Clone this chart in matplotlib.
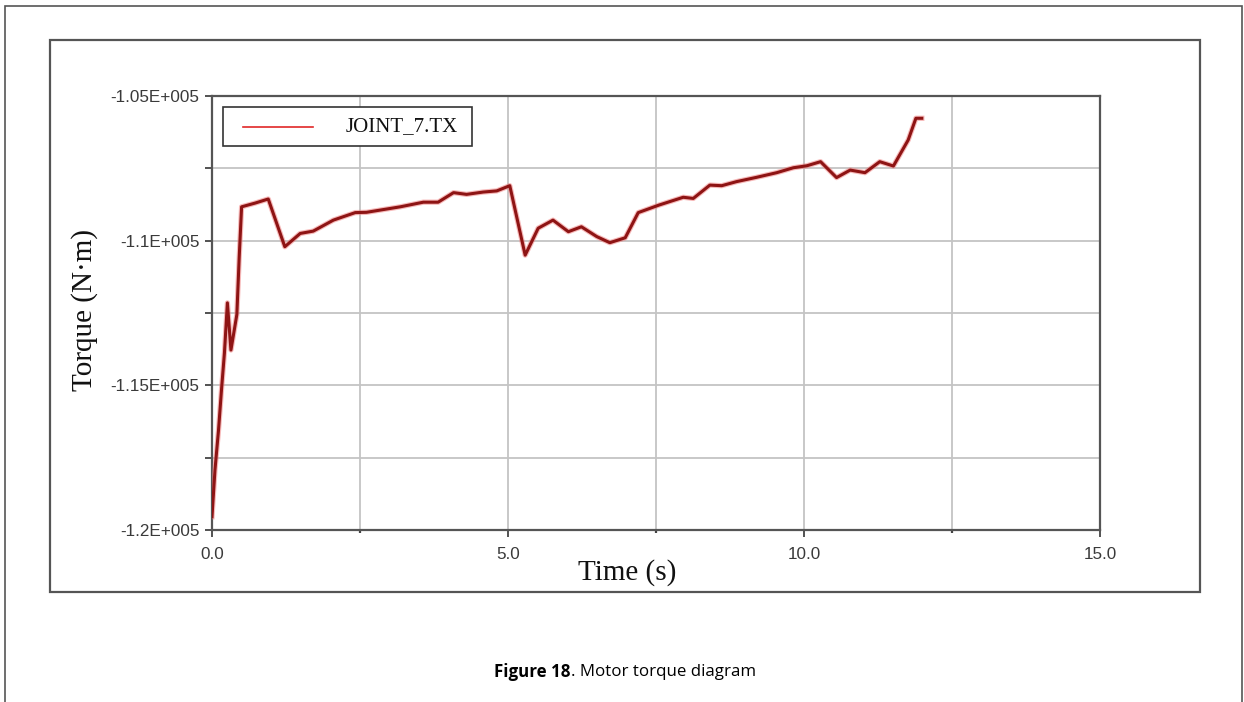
import matplotlib
matplotlib.use("Agg")
import matplotlib.pyplot as plt
import matplotlib.patheffects as pe
from matplotlib.patches import Rectangle
from matplotlib.lines import Line2D

# Joint 7 motor torque over time
time_s = [0.00, 0.05, 0.11, 0.16, 0.21, 0.26, 0.32, 0.42, 0.46, 0.50, 0.73,
          0.95, 1.23, 1.49, 1.71, 2.05, 2.42, 2.61, 3.18, 3.57, 3.82, 4.08,
          4.30, 4.58, 4.81, 5.03, 5.29, 5.51, 5.76, 6.02, 6.24, 6.50, 6.72,
          6.98, 7.20, 7.55, 7.96, 8.13, 8.41, 8.61, 8.86, 9.20, 9.54, 9.82,
          10.05, 10.28, 10.55, 10.78, 11.03, 11.28, 11.51, 11.76, 11.89, 11.99]
torque = [-119540, -117930, -116550, -115160, -113880, -112150, -113780,
          -112550, -110550, -108830, -108700, -108560, -110210, -109750,
          -109670, -109290, -109030, -109020, -108830, -108670, -108670,
          -108340, -108400, -108320, -108280, -108100, -110500, -109570,
          -109290, -109690, -109520, -109860, -110070, -109900, -109030,
          -108770, -108500, -108540, -108080, -108100, -107960, -107810,
          -107650, -107480, -107410, -107270, -107820, -107560, -107650,
          -107270, -107420, -106520, -105770, -105770]

x_ticks = [0.0, 5.0, 10.0, 15.0]
x_tick_labels = ["0.0", "5.0", "10.0", "15.0"]
y_ticks = [-120000, -115000, -110000, -105000]
y_tick_labels = ["-1.2E+005", "-1.15E+005", "-1.1E+005", "-1.05E+005"]
series_name = "JOINT_7.TX"

W, H = 1244, 702
fig = plt.figure(figsize=(W / 100, H / 100), dpi=100)
fig.patch.set_facecolor("white")


def fx(px):
    return px / W


def fy(py):
    return 1 - py / H


# outer page frame and inner plot frame
fig.add_artist(Rectangle((fx(5), fy(720)), fx(1242) - fx(5), fy(6) - fy(720),
                         transform=fig.transFigure, fill=False,
                         edgecolor="#555555", linewidth=1.2))
fig.add_artist(Rectangle((fx(50), fy(592)), fx(1200) - fx(50), fy(40) - fy(592),
                         transform=fig.transFigure, fill=False,
                         edgecolor="#555555", linewidth=1.6))

ax = fig.add_axes([fx(212), fy(530), fx(1100) - fx(212), fy(96) - fy(530)])
ax.set_xlim(0, 15)
ax.set_ylim(-120000, -105000)

ax.plot(time_s, torque, color="#8e1414", linewidth=2.2, solid_joinstyle="round",
        path_effects=[pe.Stroke(linewidth=3.8, foreground="#f08080", alpha=0.55),
                      pe.Normal()], zorder=3)

ax.set_xticks(x_ticks)
ax.set_xticklabels(x_tick_labels)
ax.set_xticks([2.5, 7.5, 12.5], minor=True)
ax.set_yticks(y_ticks)
ax.set_yticklabels(y_tick_labels)
ax.set_yticks([-117500, -112500, -107500], minor=True)

ax.grid(True, which="both", color="#c4c4c4", linewidth=1.3, zorder=0)
ax.set_axisbelow(True)

for s in ax.spines.values():
    s.set_color("#555555")
    s.set_linewidth(1.6)

ax.tick_params(axis="both", which="both", direction="out", length=5,
               width=1.3, color="#444444", labelcolor="#3a3a3a")
ax.tick_params(axis="x", which="minor", length=2.5, width=1.6)
ax.tick_params(axis="y", which="major", pad=4)
ax.tick_params(axis="x", which="major", pad=7)
for lab in ax.get_xticklabels() + ax.get_yticklabels():
    lab.set_fontfamily("Liberation Sans")
    lab.set_fontsize(12.3)

# legend box
lg_x0 = (222.7 - 212) / 888
lg_x1 = (471.7 - 212) / 888
lg_y1 = 1 - (106.7 - 96) / 434
lg_y0 = 1 - (145.7 - 96) / 434
ax.add_patch(Rectangle((lg_x0, lg_y0), lg_x1 - lg_x0, lg_y1 - lg_y0,
                       transform=ax.transAxes, facecolor="white",
                       edgecolor="#333333", linewidth=1.2, zorder=5))
ly = 1 - (126.7 - 96) / 434
ax.add_line(Line2D([(242.7 - 212) / 888, (312.7 - 212) / 888], [ly, ly],
                   transform=ax.transAxes, color="#e02828", linewidth=1.2,
                   zorder=6))
ax.text((346 - 212) / 888, ly, series_name, transform=ax.transAxes,
        ha="left", va="center", fontsize=15, family="Liberation Serif",
        color="#111111", zorder=6)

# axis titles
fig.text(fx(627), fy(573), "Time (s)", ha="center", va="center",
         fontsize=21, family="Liberation Serif", color="#111111")
fig.text(fx(85), fy(310), "Torque (N\u00b7m)", ha="center", va="center",
         rotation=90, fontsize=21, family="Liberation Serif", color="#111111")

# caption with bold figure number
fig.canvas.draw()
renderer = fig.canvas.get_renderer()
cap_bold = fig.text(0, fy(672), "Figure 18", ha="left", va="center",
                    fontsize=12.2, family="Open Sans", fontweight="bold")
cap_rest = fig.text(0, fy(672), ". Motor torque diagram", ha="left",
                    va="center", fontsize=12.2, family="Open Sans")
wb = cap_bold.get_window_extent(renderer).width
wr = cap_rest.get_window_extent(renderer).width
start = 625 - (wb + wr) / 2
cap_bold.set_x(fx(start))
cap_rest.set_x(fx(start + wb))

fig.savefig("out.png", dpi=100, facecolor="white")
